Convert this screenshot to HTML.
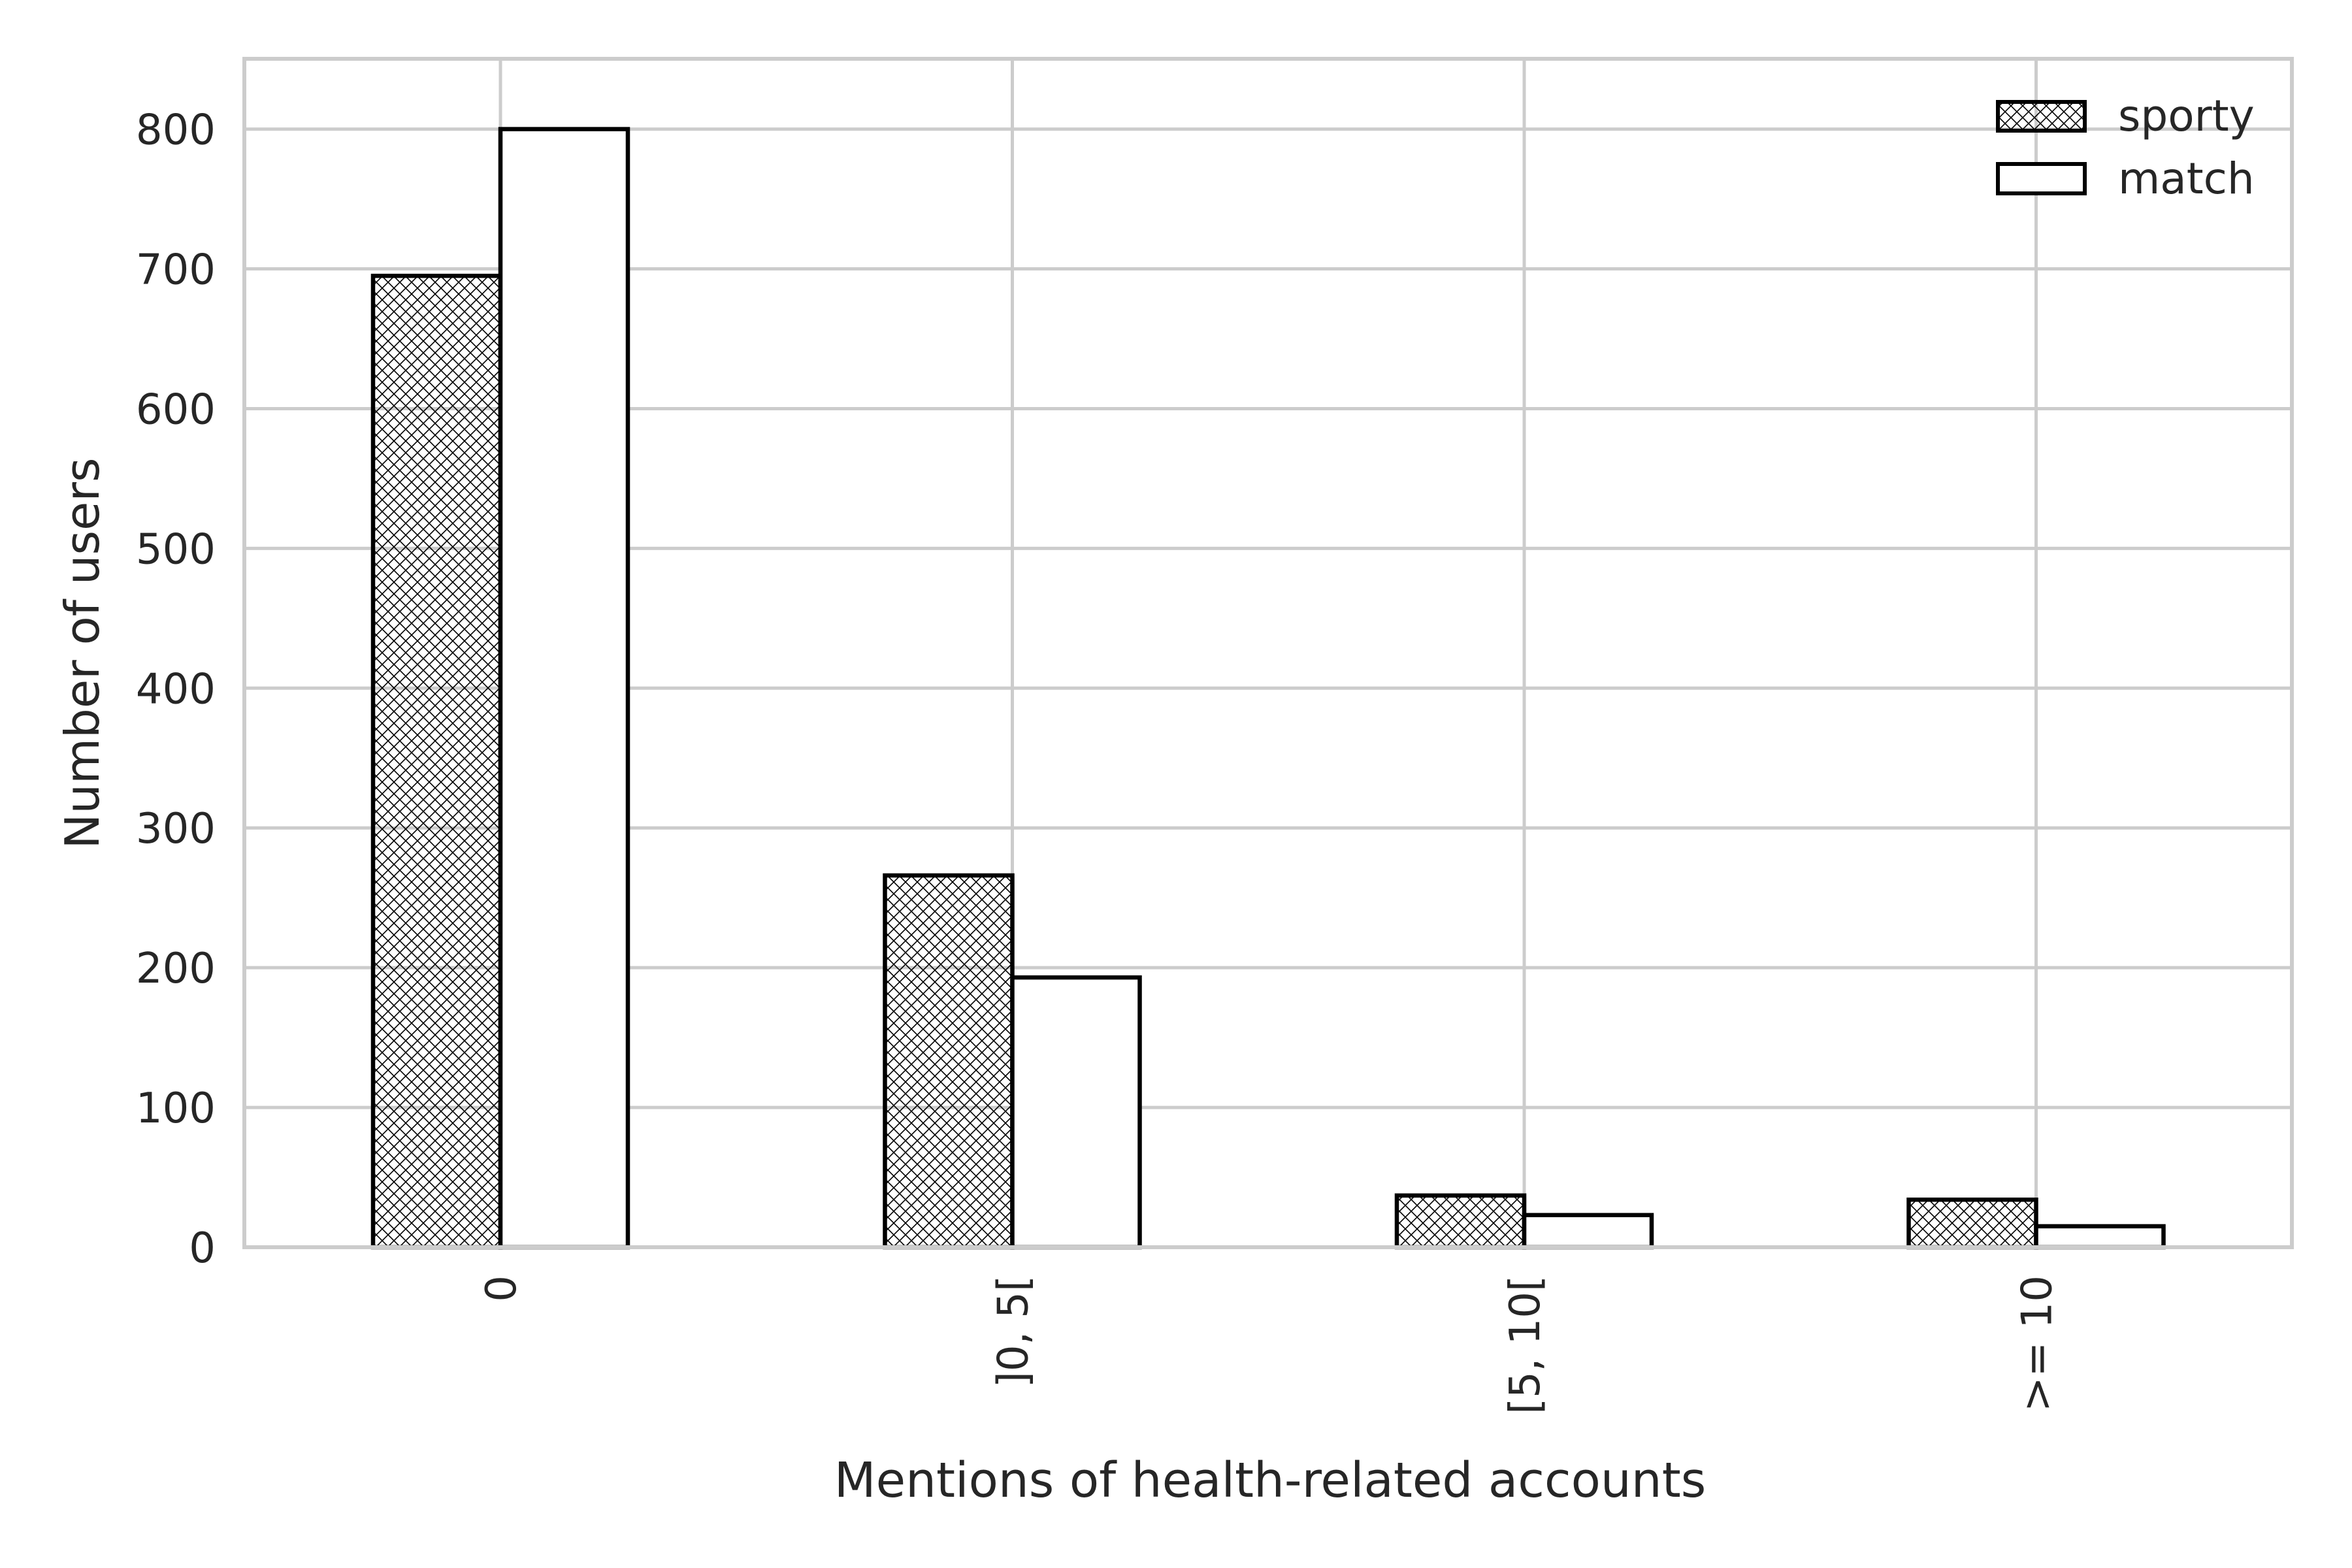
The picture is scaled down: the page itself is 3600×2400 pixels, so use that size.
<!DOCTYPE html>
<html><head><meta charset="utf-8"><style>
html,body{margin:0;padding:0;background:#fff}
svg{display:block}
text{font-family:"DejaVu Sans","Liberation Sans",sans-serif;fill:#262626}
</style></head><body>
<svg id="chart" width="3600" height="2400" xmlns="http://www.w3.org/2000/svg">
<defs>
<pattern id="hatch" patternUnits="userSpaceOnUse" width="18" height="18">
<path d="M0,0 L18,18 M18,0 L0,18" stroke="#000" stroke-width="1.6"/>
</pattern>
</defs>
<g id="grid"></g>
<g id="bars"></g>
<g id="axes"></g>
<g>
<rect x="3058" y="156" width="133" height="44" fill="url(#hatch)" stroke="#000" stroke-width="6"/>
<text x="3242" y="200" font-size="66">sporty</text>
<rect x="3058" y="251" width="133" height="45" fill="#fff" stroke="#000" stroke-width="6"/>
<text x="3242" y="296" font-size="66">match</text>
</g>
<text x="0" y="0" font-size="72" text-anchor="middle" transform="translate(151,1000) rotate(-90)">Number of users</text>
<text x="1944" y="2291" font-size="74" text-anchor="middle">Mentions of health-related accounts</text>
</svg>
<script>
const categories = ["0", "]0, 5[", "[5, 10[", ">= 10"];
const sporty = [695, 266, 37, 34];
const match = [800, 193, 23, 15];
const yTicks = [0, 100, 200, 300, 400, 500, 600, 700, 800];

const NS = "http://www.w3.org/2000/svg";
const L = 374, R = 3508, T = 90, B = 1909;
const y0px = 1909, y800px = 197.6;
function yScale(v){ return y0px - v * (y0px - y800px) / 800; }
const catStart = 766, catStep = 783.5;
function xScale(i){ return catStart + i * catStep; }
const barW = 195;

function mk(tag, attrs){ const e = document.createElementNS(NS, tag); for (const k in attrs) e.setAttribute(k, attrs[k]); return e; }
const grid = document.getElementById('grid');
const bars = document.getElementById('bars');
const axes = document.getElementById('axes');

yTicks.forEach(v => {
  const y = yScale(v);
  if (v > 0) {
    const ln = mk('line', {x1: L, x2: R, y1: y, y2: y, stroke: '#cccccc', 'stroke-width': 5});
    
    
    grid.appendChild(ln);
  }
  const t = mk('text', {x: 330, y: y + 23, 'font-size': 64, 'text-anchor': 'end'});
  t.textContent = String(v);
  
  
  axes.appendChild(t);
});

categories.forEach((c, i) => {
  const x = xScale(i);
  const ln = mk('line', {x1: x, x2: x, y1: T, y2: B, stroke: '#cccccc', 'stroke-width': 5});
  
  
  grid.appendChild(ln);

  const ys = yScale(sporty[i]);
  const b1 = mk('rect', {x: x - barW, y: ys, width: barW, height: B - ys, fill: 'url(#hatch)', stroke: '#000', 'stroke-width': 6.5});
  
  
  bars.appendChild(b1);

  const ym = yScale(match[i]);
  const b2 = mk('rect', {x: x, y: ym, width: barW, height: B - ym, fill: '#fff', stroke: '#000', 'stroke-width': 6.5});
  
  
  bars.appendChild(b2);

  const t = mk('text', {x: 0, y: 0, 'font-size': 64, 'text-anchor': 'end', transform: 'translate(' + (x + 23) + ',1952) rotate(-90)'});
  t.textContent = c;
  
  
  axes.appendChild(t);
});

const frame = mk('rect', {x: L, y: T, width: R - L, height: B - T, fill: 'none', stroke: '#cccccc', 'stroke-width': 6});


axes.appendChild(frame);
</script>
</body></html>
